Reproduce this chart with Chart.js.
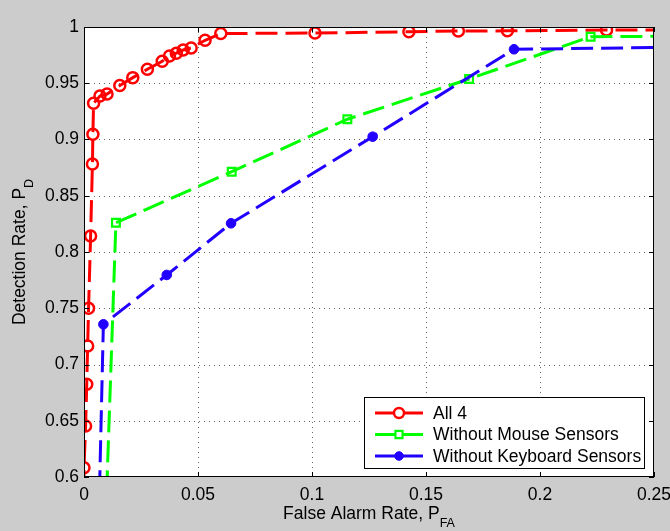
<!DOCTYPE html>
<html>
<head>
<meta charset="utf-8">
<script src="https://cdn.jsdelivr.net/npm/chart.js@4"></script>
<style>
  html, body { margin: 0; padding: 0; background: #cccccc; }
  #wrap { width: 670px; height: 531px; }
</style>
</head>
<body>
<div id="wrap"><canvas id="roc" width="670" height="531"></canvas></div>
<script>
// Valeurs (courbes ROC)
const pfaAll4 = [0, 0, 0.0007, 0.0012, 0.0016, 0.002, 0.0029, 0.0037, 0.0039, 0.0042, 0.007, 0.0101, 0.0157, 0.0214, 0.0278, 0.0343, 0.0375, 0.0405, 0.0435, 0.047, 0.0531, 0.06, 0.1013, 0.1425, 0.1642, 0.1857, 0.2292, 1];
const pdAll4 = [0, 0.6083, 0.6453, 0.6824, 0.7164, 0.75, 0.8142, 0.8782, 0.9046, 0.9322, 0.9387, 0.9404, 0.948, 0.955, 0.9624, 0.9696, 0.9742, 0.9767, 0.9796, 0.9814, 0.9882, 0.9942, 0.9946, 0.9958, 0.9964, 0.9966, 0.9973, 1];

const pfaNoMouse = [0, 0.014, 0.0648, 0.1155, 0.1689, 0.2222, 1];
const pdNoMouse = [0, 0.826, 0.8714, 0.918, 0.9538, 0.9914, 1];

const pfaNoKeyboard = [0, 0.0085, 0.0363, 0.0645, 0.1266, 0.1886, 1];
const pdNoKeyboard = [0, 0.7357, 0.7796, 0.8255, 0.9025, 0.9802, 1];

const seriesLabels = ['All 4', 'Without Mouse Sensors', 'Without Keyboard Sensors'];
const xTicks = [0, 0.05, 0.1, 0.15, 0.2, 0.25];
const yTicks = [0.6, 0.65, 0.7, 0.75, 0.8, 0.85, 0.9, 0.95, 1];

const FONT = '"Liberation Sans", Arial, Helvetica, sans-serif';
const RED = '#ff0000';
const GREEN = '#00ff00';
const BLUE = '#2200ff';

function toPoints(xs, ys) {
    return xs.map((x, i) => ({ x: x, y: ys[i] }));
}

// pas de marqueur sur les extrémités (0,0) et (1,1)
function radiusFor(n, r) {
    return (ctx) => (ctx.dataIndex === 0 || ctx.dataIndex === n - 1) ? 0 : r;
}

const markerRadius = [5.5, 5.5, 4.8];

const datasets = [
    {
        label: seriesLabels[0],
        data: toPoints(pfaAll4, pdAll4),
        borderColor: RED,
        borderWidth: 3,
        borderDash: [22, 8],
        pointStyle: 'circle',
        pointRadius: radiusFor(pfaAll4.length, markerRadius[0]),
        pointBorderColor: RED,
        pointBackgroundColor: 'rgba(0,0,0,0)',
        pointBorderWidth: 2.5,
        order: 3
    },
    {
        label: seriesLabels[1],
        data: toPoints(pfaNoMouse, pdNoMouse),
        borderColor: GREEN,
        borderWidth: 3,
        borderDash: [22, 8],
        pointStyle: 'rect',
        pointRadius: radiusFor(pfaNoMouse.length, markerRadius[1]),
        pointBorderColor: GREEN,
        pointBackgroundColor: 'rgba(0,0,0,0)',
        pointBorderWidth: 2.2,
        order: 2
    },
    {
        label: seriesLabels[2],
        data: toPoints(pfaNoKeyboard, pdNoKeyboard),
        borderColor: BLUE,
        borderWidth: 3,
        borderDash: [22, 8],
        pointStyle: 'circle',
        pointRadius: radiusFor(pfaNoKeyboard.length, markerRadius[2]),
        pointBorderColor: BLUE,
        pointBackgroundColor: BLUE,
        pointBorderWidth: 1,
        order: 1
    }
];

// Fond blanc, grille pointillée, cadre, graduations internes, titres et légende
const matlabLook = {
    id: 'matlabLook',
    beforeDraw(chart) {
        const { ctx, chartArea: a } = chart;
        ctx.save();
        ctx.fillStyle = '#ffffff';
        ctx.fillRect(a.left, a.top, a.right - a.left, a.bottom - a.top);
        ctx.restore();
    },
    beforeDatasetsDraw(chart) {
        const { ctx, chartArea: a, scales } = chart;
        ctx.save();
        ctx.strokeStyle = 'rgba(0,0,0,0.6)';
        ctx.lineWidth = 1;
        ctx.setLineDash([1, 4]);
        xTicks.forEach(v => {
            const px = Math.round(scales.x.getPixelForValue(v)) + 0.5;
            if (px <= a.left + 1 || px >= a.right - 1) return;
            ctx.beginPath();
            ctx.moveTo(px, a.top);
            ctx.lineTo(px, a.bottom);
            ctx.stroke();
        });
        yTicks.forEach(v => {
            const py = Math.round(scales.y.getPixelForValue(v)) + 0.5;
            if (py <= a.top + 1 || py >= a.bottom - 1) return;
            ctx.beginPath();
            ctx.moveTo(a.left, py);
            ctx.lineTo(a.right, py);
            ctx.stroke();
        });
        ctx.restore();
    },
    afterDraw(chart) {
        const { ctx, chartArea: a, scales } = chart;
        ctx.save();
        // cadre
        ctx.strokeStyle = '#000000';
        ctx.lineWidth = 1;
        ctx.setLineDash([]);
        ctx.strokeRect(a.left + 0.5, a.top + 0.5, a.right - a.left - 1, a.bottom - a.top - 1);

        // graduations vers l'intérieur
        const tl = 5;
        ctx.beginPath();
        xTicks.forEach(v => {
            const px = Math.round(scales.x.getPixelForValue(v)) + 0.5;
            ctx.moveTo(px, a.bottom);
            ctx.lineTo(px, a.bottom - tl);
            ctx.moveTo(px, a.top);
            ctx.lineTo(px, a.top + tl);
        });
        yTicks.forEach(v => {
            const py = Math.round(scales.y.getPixelForValue(v)) + 0.5;
            ctx.moveTo(a.left, py);
            ctx.lineTo(a.left + tl, py);
            ctx.moveTo(a.right, py);
            ctx.lineTo(a.right - tl, py);
        });
        ctx.stroke();

        // titres des axes avec indice
        ctx.fillStyle = '#000000';
        ctx.textBaseline = 'alphabetic';
        ctx.textAlign = 'left';
        const mainFont = '17.5px ' + FONT;
        const subFont = '12.5px ' + FONT;

        const xMain = 'False Alarm Rate, P';
        const xSub = 'FA';
        ctx.font = mainFont;
        const xw1 = ctx.measureText(xMain).width;
        ctx.font = subFont;
        const xw2 = ctx.measureText(xSub).width;
        const xStart = (a.left + a.right) / 2 - (xw1 + xw2) / 2;
        ctx.font = mainFont;
        ctx.fillText(xMain, xStart, 519);
        ctx.font = subFont;
        ctx.fillText(xSub, xStart + xw1, 527);

        const yMain = 'Detection Rate, P';
        const ySub = 'D';
        ctx.font = mainFont;
        const yw1 = ctx.measureText(yMain).width;
        ctx.font = subFont;
        const yw2 = ctx.measureText(ySub).width;
        ctx.save();
        ctx.translate(25, (a.top + a.bottom) / 2);
        ctx.rotate(-Math.PI / 2);
        const yStart = -(yw1 + yw2) / 2;
        ctx.font = mainFont;
        ctx.fillText(yMain, yStart, 0);
        ctx.font = subFont;
        ctx.fillText(ySub, yStart + yw1, 8);
        ctx.restore();

        // légende
        const box = { left: 364, top: 397, right: 645, bottom: 469 };
        ctx.fillStyle = '#ffffff';
        ctx.fillRect(box.left, box.top, box.right - box.left, box.bottom - box.top);
        ctx.strokeStyle = '#000000';
        ctx.lineWidth = 1;
        ctx.strokeRect(box.left + 0.5, box.top + 0.5, box.right - box.left - 1, box.bottom - box.top - 1);
        const rows = [413, 434.5, 456];
        datasets.forEach((ds, i) => {
            const y = rows[i];
            ctx.strokeStyle = ds.borderColor;
            ctx.lineWidth = 3;
            ctx.setLineDash([]);
            ctx.beginPath();
            ctx.moveTo(375, y);
            ctx.lineTo(423, y);
            ctx.stroke();
            ctx.fillStyle = ds.pointBackgroundColor === BLUE ? BLUE : '#ffffff';
            ctx.strokeStyle = ds.pointBorderColor;
            ctx.lineWidth = ds.pointBorderWidth;
            Chart.helpers.drawPoint(ctx, { pointStyle: ds.pointStyle, radius: markerRadius[i] - 0.5, borderWidth: ds.pointBorderWidth, rotation: 0 }, 399, y);
            ctx.fillStyle = '#000000';
            ctx.font = mainFont;
            ctx.textBaseline = 'middle';
            ctx.fillText(ds.label, 433, y + 1);
        });
        ctx.restore();
    }
};

new Chart(document.getElementById('roc'), {
    type: 'line',
    data: { datasets: datasets },
    options: {
        responsive: false,
        animation: false,
        events: [],
        layout: { padding: { left: 0, right: 16, top: 27, bottom: 0 } },
        plugins: {
            legend: { display: false },
            tooltip: { enabled: false }
        },
        scales: {
            x: {
                type: 'linear',
                min: 0,
                max: 0.25,
                afterBuildTicks: (s) => { s.ticks = xTicks.map(v => ({ value: v })); },
                afterFit: (s) => { s.height = 54; s.paddingLeft = 0; s.paddingRight = 0; },
                grid: { display: false, drawTicks: false },
                border: { display: false },
                ticks: {
                    color: '#000000',
                    padding: 8,
                    maxRotation: 0,
                    font: { family: FONT, size: 17.5 },
                    callback: (v) => String(Math.round(v * 100) / 100)
                }
            },
            y: {
                type: 'linear',
                min: 0.6,
                max: 1,
                afterBuildTicks: (s) => { s.ticks = yTicks.map(v => ({ value: v })); },
                afterFit: (s) => { s.width = 84; s.paddingTop = 0; s.paddingBottom = 0; },
                grid: { display: false, drawTicks: false },
                border: { display: false },
                ticks: {
                    color: '#000000',
                    padding: 5,
                    font: { family: FONT, size: 17.5 },
                    callback: (v) => String(Math.round(v * 100) / 100)
                }
            }
        }
    },
    plugins: [matlabLook]
});
</script>
</body>
</html>
